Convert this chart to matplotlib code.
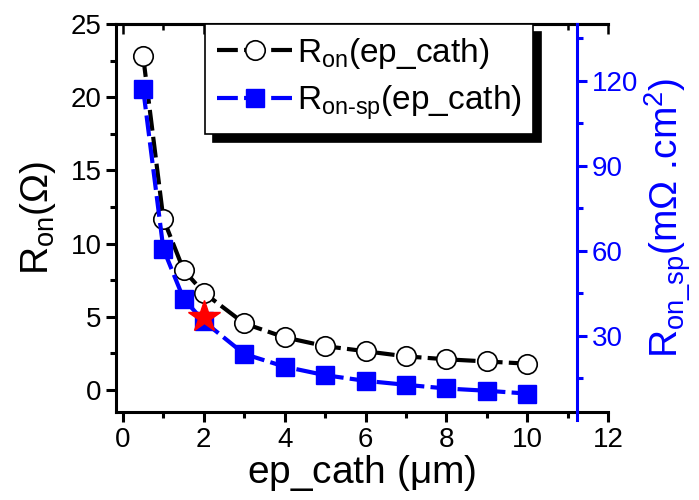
import numpy as np
import matplotlib.pyplot as plt
from matplotlib.ticker import MultipleLocator

plt.rcParams['font.family'] = ['Liberation Sans', 'DejaVu Sans']
plt.rcParams['mathtext.fontset'] = 'custom'
plt.rcParams['mathtext.rm'] = 'Liberation Sans'
plt.rcParams['mathtext.it'] = 'Liberation Sans:italic'
plt.rcParams['mathtext.default'] = 'regular'

# data
ep_cath = [0.5, 1, 1.5, 2, 3, 4, 5, 6, 7, 8, 9, 10]
r_on = [22.8, 11.7, 8.2, 6.65, 4.55, 3.6, 3.0, 2.65, 2.3, 2.1, 1.95, 1.8]
r_on_sp = [117.2, 60.6, 43.0, 35.0, 23.5, 19.0, 16.0, 14.0, 12.6, 11.3, 10.5, 9.5]
star_x = [2]
star_y = [5]

fig = plt.figure(figsize=(6.99, 5), dpi=100)
ax = fig.add_axes([0.166, 0.176, 0.704, 0.776])

l1, = ax.plot(ep_cath, r_on, color='black', lw=3, dashes=(5, 1.5),
              marker='o', ms=14, mfc='white', mec='black', mew=1.2,
              label=r'R$_{on}$(ep_cath)', zorder=3)

ax.set_xlim(-0.17, 12)
ax.set_ylim(-1.5, 25)
ax.xaxis.set_major_locator(MultipleLocator(2))
ax.xaxis.set_minor_locator(MultipleLocator(1))
ax.yaxis.set_major_locator(MultipleLocator(5))
ax.yaxis.set_minor_locator(MultipleLocator(2.5))
ax.tick_params(which='both', direction='out', width=2.2, labelsize=20, top=False)
ax.tick_params(which='major', length=7)
ax.tick_params(which='minor', length=4.5)
for s in ['left', 'bottom', 'top']:
    ax.spines[s].set_linewidth(2.2)
ax.spines['right'].set_visible(False)

# ticks on the top edge point inwards
sec = ax.secondary_xaxis('top')
sec.xaxis.set_major_locator(MultipleLocator(2))
sec.xaxis.set_minor_locator(MultipleLocator(1))
sec.tick_params(which='both', direction='in', width=1.8, labeltop=False)
sec.tick_params(which='major', length=7)
sec.tick_params(which='minor', length=4.5)
sec.spines['top'].set_linewidth(2.2)

ax.set_xlabel(r'ep_cath ($\mu$m)', fontsize=28, labelpad=0)
ax.set_ylabel(r'R$_{on}$($\Omega$)', fontsize=28, labelpad=9)

ax2 = ax.twinx()
l2, = ax2.plot(ep_cath, r_on_sp, color='blue', lw=3, dashes=(5, 1.5),
               marker='s', ms=13, mfc='blue', mec='blue',
               label=r'R$_{on\text{-}sp}$(ep_cath)', zorder=3)
# the star sits on the left-axis scale
ax2.plot(star_x, star_y, marker='*', color='red', ms=24, ls='none', zorder=6,
         transform=ax.transData)
ax2.set_ylim(3, 140)
ax2.yaxis.set_major_locator(MultipleLocator(30))
ax2.yaxis.set_minor_locator(MultipleLocator(15))
for s in ['left', 'top', 'bottom']:
    ax2.spines[s].set_visible(False)
ax2.spines['right'].set_position(('data', 11.24))
ax2.spines['right'].set_bounds(0.3, 140)
ax2.spines['right'].set_color('blue')
ax2.spines['right'].set_linewidth(2.2)
ax2.tick_params(which='both', direction='out', width=2.2, colors='blue', labelsize=20)
ax2.tick_params(which='major', length=7)
ax2.tick_params(which='minor', length=4.5)
ax2.set_ylabel(r'R$_{on\_sp}$(m$\Omega$ .cm$^{2}$)', fontsize=28, color='blue', labelpad=3)

leg = ax2.legend([l1, l2], [l1.get_label(), l2.get_label()], loc='upper left',
                 bbox_to_anchor=(205 / 699, 1 - 24 / 500), bbox_transform=fig.transFigure,
                 borderaxespad=0, fontsize=24, handlelength=2.3, handletextpad=0.1,
                 fancybox=False, edgecolor='black', framealpha=1,
                 shadow={'color': 'black', 'alpha': 1, 'ox': 6, 'oy': -6},
                 borderpad=0.35, labelspacing=0.4)
leg.get_frame().set_linewidth(1.2)

fig.savefig('out.png', dpi=100)
